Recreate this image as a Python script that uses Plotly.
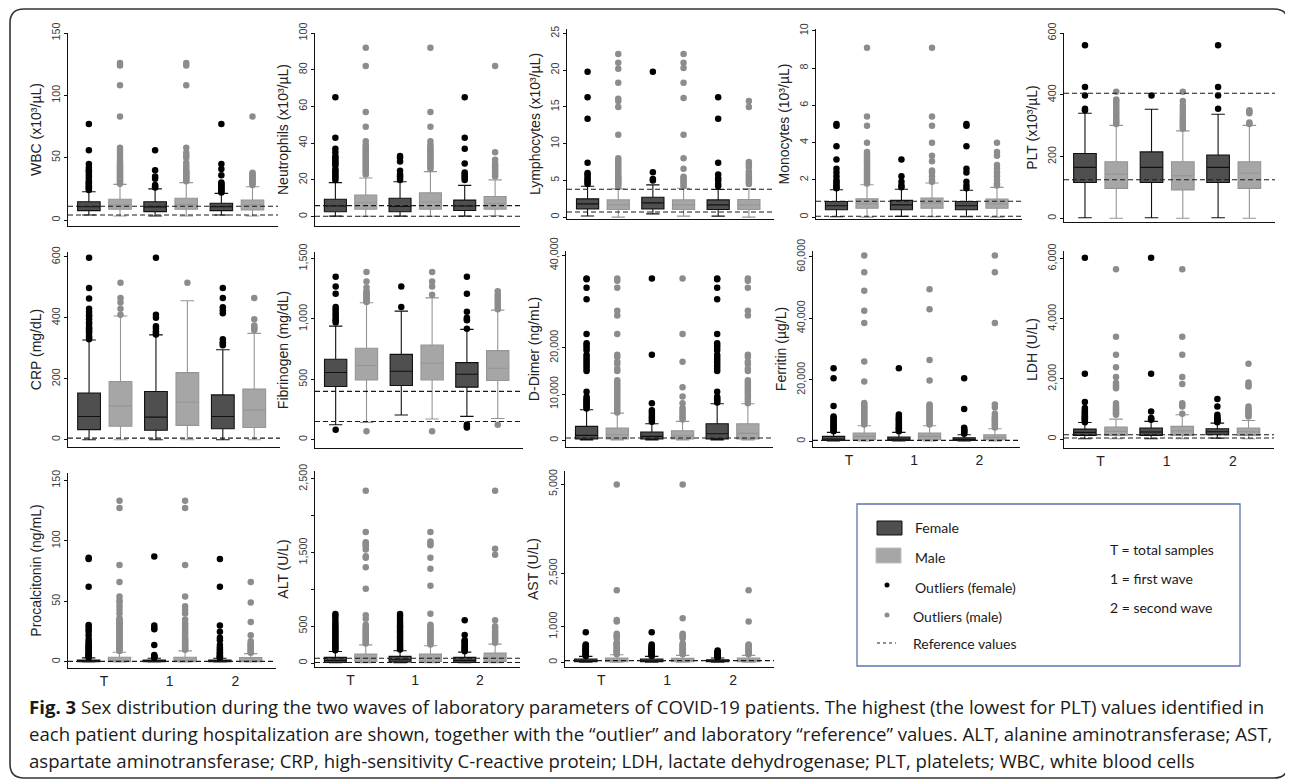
import plotly.graph_objects as go

# screen size and the page's default body margin (the figure div starts at 8,8)
SCREEN_W, SCREEN_H, PAGE_MARGIN = 1293, 780, 8
W, H = SCREEN_W - PAGE_MARGIN, SCREEN_H - PAGE_MARGIN
GROUPS = ["T", "1", "2"]

# ---------------- data (order of every list: T, 1, 2) ----------------
WBC_F = dict(low=[4, 3.2, 4], q1=[7.5, 6.7, 7.5], med=[10.7, 10.5, 10.6], q3=[14.7, 14.7, 13.4], high=[22.7, 25, 21.4])
WBC_M = dict(low=[3.2, 3.2, 3.2], q1=[8.6, 8.6, 8.0], med=[12.0, 12.3, 12.0], q3=[16.6, 17.4, 16.0], high=[28.6, 30.0, 26.7])
WBC_F_OUT = [[24, 25, 26, 27, 28, 29, 30, 31, 33, 35, 37, 39, 40, 42, 45, 56, 77],
             [26, 27, 28, 33, 35, 40, 56],
             [22, 23, 24, 25, 26, 27, 28, 29, 30, 36, 41, 45, 77]]
WBC_M_OUT = [[29, 30, 31, 32, 33, 34, 35, 36, 37, 38, 39, 40, 41, 42, 43, 44, 45, 46, 48, 50, 52, 54, 56, 58, 83, 108, 124, 126],
             [31, 32, 33, 34, 35, 36, 37, 38, 39, 40, 42, 44, 46, 50, 52, 54, 58, 108, 124, 126],
             [28, 29, 30, 31, 32, 33, 34, 35, 36, 37, 38, 83]]
WBC_REF = [4, 11]

NEU_F = dict(low=[0.3, 0.3, 0.3], q1=[2.7, 2.7, 3.3], med=[5.8, 5.5, 5.8], q3=[9.5, 10.0, 9.0], high=[18.5, 19.0, 17.0])
NEU_M = dict(low=[0.2, 0.2, 0.5], q1=[4.0, 4.0, 4.0], med=[7.6, 8.0, 7.0], q3=[11.8, 13.0, 11.0], high=[21.0, 24.5, 20.0])
NEU_F_OUT = [[20, 21, 22, 23, 24, 25, 26, 28, 29, 30, 31, 32, 33, 35, 37, 43, 65],
             [20, 21, 22, 23, 25, 30, 32, 33],
             [20, 21, 22, 23, 24, 29, 37, 43, 65]]
NEU_M_OUT = [[23, 24, 25, 26, 27, 28, 29, 30, 31, 32, 33, 34, 35, 36, 37, 38, 39, 41, 49, 57, 82, 92],
             [26, 27, 28, 29, 30, 31, 32, 33, 34, 35, 36, 37, 38, 39, 41, 49, 57, 92],
             [22, 23, 24, 25, 26, 27, 28, 29, 31, 35, 82]]
NEU_REF = [0.2, 6.0]

LYM_F = dict(low=[0.15, 0.45, 0.14], q1=[1.13, 1.13, 1.04], med=[1.81, 1.95, 1.67], q3=[2.49, 2.71, 2.35], high=[4.2, 4.39, 3.76])
LYM_M = dict(low=[0.0, 0.14, 0.0], q1=[1.04, 1.04, 1.04], med=[1.67, 1.67, 1.67], q3=[2.35, 2.35, 2.4], high=[3.85, 3.94, 3.85])
LYM_F_OUT = [[4.5, 4.7, 5.0, 5.2, 5.5, 5.8, 6.0, 7.4, 13.4, 16.3, 19.8],
             [5.0, 5.2, 6.1, 19.8],
             [4.2, 4.5, 5.0, 5.3, 5.8, 7.4, 13.4, 16.3]]
LYM_M_OUT = [[4.2, 4.4, 4.6, 4.8, 5.0, 5.2, 5.4, 5.6, 5.9, 6.2, 6.5, 6.8, 7.1, 7.4, 7.7, 8.0, 11.2, 15.0, 15.8, 16.1, 18.3, 20.2, 21.0, 22.2],
             [4.2, 4.5, 4.8, 5.0, 5.3, 5.5, 6.6, 8.0, 11.2, 16.2, 18.3, 20.3, 21.0, 22.2],
             [4.5, 4.7, 5.0, 5.3, 5.6, 5.9, 6.2, 6.8, 7.2, 7.5, 15.0, 15.8]]
LYM_REF = [0.7, 3.8]

MON_F = dict(low=[0.02, 0.04, 0.02], q1=[0.40, 0.40, 0.40], med=[0.61, 0.66, 0.61], q3=[0.84, 0.90, 0.84], high=[1.47, 1.50, 1.44])
MON_M = dict(low=[0.0, 0.02, 0.0], q1=[0.48, 0.48, 0.48], med=[0.72, 0.75, 0.72], q3=[0.99, 1.02, 0.97], high=[1.74, 1.83, 1.60])
MON_F_OUT = [[1.55, 1.6, 1.7, 1.8, 1.9, 2.0, 2.2, 2.4, 2.6, 3.1, 3.8, 4.9, 5.0],
             [1.6, 1.7, 1.9, 2.2, 3.1],
             [1.55, 1.7, 1.9, 2.4, 2.6, 3.8, 4.9, 5.0]]
MON_M_OUT = [[1.8, 1.9, 2.0, 2.1, 2.2, 2.3, 2.4, 2.5, 2.6, 2.7, 2.8, 2.9, 3.0, 3.1, 3.2, 3.3, 3.4, 3.5, 4.0, 4.9, 5.4, 9.1],
             [1.9, 2.0, 2.2, 2.4, 2.5, 3.0, 3.3, 4.0, 4.9, 5.4, 9.1],
             [1.7, 1.8, 2.0, 2.2, 2.4, 2.6, 2.8, 3.3, 3.5, 4.0]]
MON_REF = [0.05, 0.85]

PLT_F = dict(low=[2, 2, 2], q1=[116, 116, 116], med=[165, 165, 165], q3=[210, 215, 205], high=[340, 353, 337])
PLT_M = dict(low=[0, 0, 0], q1=[97, 92, 97], med=[143, 138, 146], q3=[183, 183, 183], high=[301, 283, 301])
PLT_F_OUT = [[350, 355, 398, 425, 560], [398], [355, 398, 425, 560]]
PLT_M_OUT = [[305, 312, 318, 325, 332, 340, 347, 355, 362, 370, 378, 385, 410],
             [290, 298, 305, 312, 320, 328, 335, 345, 355, 365, 380, 410],
             [305, 310, 340, 345, 350]]
PLT_REF = [125, 405]

CRP_F = dict(low=[0, 0, 0], q1=[33, 31, 36], med=[76, 74, 76], q3=[153, 158, 147], high=[327, 344, 295])
CRP_M = dict(low=[0, 0, 0], q1=[44, 47, 40], med=[111, 123, 97], q3=[191, 220, 166], high=[406, 456, 349])
CRP_F_OUT = [[330, 335, 340, 350, 355, 360, 365, 370, 380, 385, 395, 405, 410, 420, 430, 463, 498, 597],
             [345, 350, 355, 365, 372, 400, 410, 597],
             [310, 315, 320, 330, 415, 425, 435, 465, 498]]
CRP_M_OUT = [[410, 430, 450, 465, 515], [515], [360, 365, 370, 375, 395, 465]]
CRP_REF = [5]

FIB_F = dict(low=[124, 204, 193], q1=[440, 449, 435], med=[556, 567, 542], q3=[666, 707, 638], high=[941, 1065, 914])
FIB_M = dict(low=[143, 171, 176], q1=[495, 495, 490], med=[614, 633, 592], q3=[757, 784, 738], high=[1134, 1175, 1073])
FIB_F_OUT = [[83, 970, 990, 1000, 1020, 1040, 1060, 1080, 1100, 1210, 1270, 1350],
             [1100, 1270],
             [100, 110, 125, 920, 990, 1000, 1010, 1060, 1210, 1350]]
FIB_M_OUT = [[69, 1140, 1150, 1160, 1170, 1180, 1190, 1200, 1210, 1220, 1230, 1260, 1310, 1390],
             [69, 1200, 1270, 1310, 1390],
             [124, 1080, 1100, 1120, 1140, 1160, 1180, 1200, 1230]]
FIB_REF = [150, 400]

DDI_F = dict(low=[100, 100, 100], q1=[300, 280, 320], med=[1077, 862, 1436], q3=[3016, 1795, 3590], high=[6606, 3590, 7898])
DDI_M = dict(low=[100, 100, 100], q1=[300, 300, 320], med=[1220, 1005, 1500], q3=[2657, 2082, 3590], high=[5888, 4093, 7898])
DDI_F_OUT = [[6900, 7200, 7500, 7800, 8100, 8400, 8700, 9000, 9400, 10500, 15000, 15500, 16000, 16500, 17000, 17500, 18000,
              18500, 19500, 20000, 20500, 21000, 23000, 30500, 33000, 34800, 35000],
             [4000, 4500, 5000, 5500, 6000, 6500, 8000, 18500, 35000],
             [8200, 8500, 8800, 9100, 9400, 10500, 15000, 15500, 16000, 16500, 17000, 17500, 18000, 18500, 19500, 20000,
              20500, 21000, 23000, 30500, 33000, 34800, 35000]]
DDI_M_OUT = [[6000, 6500, 7000, 7500, 8000, 8500, 9000, 9500, 10000, 10500, 11000, 11500, 12000, 12500, 13000, 15000, 15500,
              16500, 17000, 18000, 18500, 23000, 27000, 28000, 33000, 34500, 35000],
             [4500, 5000, 5500, 6000, 6500, 7000, 8000, 9500, 11500, 17000, 23000, 35000],
             [8000, 8500, 9000, 9500, 10000, 10500, 11000, 11500, 12000, 12500, 13000, 15000, 15500, 16500, 17000, 18000,
              18500, 27000, 28000, 33000, 34500, 35000]]
DDI_REF = [500]

FER_F = dict(low=[100, 100, 100], q1=[324, 324, 324], med=[757, 757, 650], q3=[1620, 1400, 1190], high=[2920, 2920, 2160])
FER_M = dict(low=[100, 100, 100], q1=[540, 540, 540], med=[1620, 1620, 1300], q3=[2700, 2700, 2160], high=[5080, 5080, 4100])
FER_F_OUT = [[3300, 3700, 4100, 4500, 4900, 5300, 5700, 6100, 6600, 7100, 7600, 8100, 11500, 20500, 23800],
             [3300, 3700, 4100, 4500, 5000, 5500, 6000, 6500, 7000, 7500, 8000, 8700, 23800],
             [2500, 2800, 3100, 3400, 3700, 4000, 4400, 10500, 20500]]
FER_M_OUT = [[5500, 6000, 6500, 7000, 7500, 8000, 8500, 9000, 9500, 10000, 10500, 11000, 11500, 12000, 12500, 19500, 26000,
              38500, 42500, 49000, 55000, 60500],
             [5500, 6000, 6500, 7000, 7500, 8000, 8500, 9000, 9500, 10000, 10500, 11000, 11500, 12000, 19800, 26500, 43000, 49500],
             [4500, 5000, 5500, 6000, 6500, 7000, 7500, 8000, 9000, 11000, 12000, 38500, 55000, 60500]]
FER_REF = [300]

LDH_F = dict(low=[10, 10, 30], q1=[122, 122, 144], med=[221, 232, 243], q3=[331, 365, 343], high=[552, 586, 530])
LDH_M = dict(low=[10, 10, 10], q1=[122, 122, 122], med=[254, 276, 243], q3=[398, 420, 365], high=[663, 807, 619])
LDH_F_OUT = [[560, 600, 640, 680, 720, 760, 800, 850, 900, 960, 1030, 1230, 2170, 6030],
             [640, 670, 700, 920, 2170, 6030],
             [560, 590, 620, 650, 690, 740, 810, 1080, 1330]]
LDH_M_OUT = [[810, 850, 900, 950, 1000, 1050, 1100, 1190, 1690, 1740, 1800, 1860, 2060, 2390, 2800, 3400, 5650],
             [840, 1080, 1140, 1190, 1830, 2060, 2800, 3400, 5650],
             [750, 800, 850, 900, 950, 1000, 1080, 1750, 1800, 1880, 2500]]
LDH_REF = [35, 145]

PCT_F = dict(low=[0.02, 0.02, 0.02], q1=[0.1, 0.1, 0.1], med=[0.4, 0.4, 0.4], q3=[1.6, 1.5, 1.6], high=[3.4, 3.0, 3.0])
PCT_M = dict(low=[0.02, 0.02, 0.02], q1=[0.15, 0.15, 0.15], med=[0.9, 0.9, 0.8], q3=[3.9, 3.9, 3.6], high=[8.0, 9.1, 6.9])
PCT_F_OUT = [[3.6, 4.2, 4.8, 5.5, 6.2, 7, 8, 9, 10, 11, 12, 13, 14, 15.5, 17, 19, 22, 25, 27, 29, 30.5, 62, 85, 86],
             [3.5, 4.0, 4.5, 5.0, 5.8, 14, 27, 28, 30, 87],
             [3.5, 4.0, 4.5, 5.0, 6.0, 7.0, 8.0, 9.0, 10.5, 12, 14, 18, 20, 25, 30, 62, 85]]
PCT_M_OUT = [[9, 10, 11, 12, 13, 14, 15, 16, 17, 18, 19, 20, 21, 22, 23, 24, 25, 26, 27, 28, 29, 30, 31, 32, 33, 34, 35, 36,
              40, 43, 46, 49, 51, 54, 66, 80, 127, 133],
             [10, 11, 12, 13, 14, 15, 16, 17, 18, 19, 20, 22, 24, 26, 28, 30, 32, 35, 40, 43, 46, 54, 80, 127, 133],
             [7.5, 8.5, 9.5, 10.5, 11.5, 12.5, 13.5, 14.5, 15.5, 17, 22, 33, 49, 66]]
PCT_REF = [0.5]

ALT_F = dict(low=[5, 5, 5], q1=[9, 13, 9], med=[36, 45, 36], q3=[76, 90, 76], high=[157, 166, 148])
ALT_M = dict(low=[5, 5, 5], q1=[22, 22, 22], med=[67, 67, 67], q3=[121, 121, 135], high=[247, 234, 256])
ALT_F_OUT = [[175, 195, 215, 235, 255, 275, 300, 325, 350, 375, 400, 425, 450, 475, 500, 530, 560, 600, 640, 665],
             [185, 205, 225, 250, 275, 300, 325, 350, 375, 400, 425, 450, 475, 500, 530, 560, 600, 640, 665],
             [160, 175, 190, 205, 220, 240, 260, 280, 300, 310, 380, 580]]
ALT_M_OUT = [[265, 285, 305, 325, 345, 365, 385, 405, 425, 445, 470, 495, 520, 600, 650, 1010, 1300, 1430, 1450, 1540, 1580,
              1600, 1620, 1640, 1780, 2340],
             [250, 270, 290, 310, 330, 350, 370, 390, 410, 430, 450, 475, 500, 520, 670, 1050, 1280, 1430, 1600, 1620, 1650, 1780],
             [275, 300, 325, 350, 375, 400, 425, 450, 475, 500, 580, 1470, 1550, 2340]]
ALT_REF = [8, 65]

AST_F = dict(low=[5, 5, 5], q1=[19, 19, 19], med=[46, 46, 46], q3=[93, 93, 74], high=[167, 167, 121])
AST_M = dict(low=[5, 5, 5], q1=[19, 19, 19], med=[56, 56, 56], q3=[121, 111, 121], high=[214, 195, 195])
AST_F_OUT = [[180, 200, 220, 240, 260, 280, 300, 320, 340, 360, 380, 400, 420, 450, 480, 500, 845],
             [180, 200, 220, 240, 260, 280, 300, 320, 340, 360, 380, 400, 430, 460, 500, 845],
             [140, 160, 180, 200, 220, 240, 260, 280, 300, 330]]
AST_M_OUT = [[230, 260, 290, 320, 350, 380, 410, 440, 470, 500, 530, 560, 680, 720, 760, 800, 1150, 1190, 2025, 4990],
             [230, 260, 290, 320, 350, 380, 410, 440, 470, 500, 530, 680, 720, 760, 800, 1235, 4990],
             [230, 260, 290, 320, 350, 380, 410, 440, 470, 500, 1150, 2025]]
AST_REF = [50]

CAPTION = [
    "<b>Fig. 3</b> Sex distribution during the two waves of laboratory parameters of COVID-19 patients. The highest (the lowest for PLT) values identified in",
    "each patient during hospitalization are shown, together with the \u201coutlier\u201d and laboratory \u201creference\u201d values. ALT, alanine aminotransferase; AST,",
    "aspartate aminotransferase; CRP, high-sensitivity C-reactive protein; LDH, lactate dehydrogenase; PLT, platelets; WBC, white blood cells",
]

# ---------------- panel layout (screen pixel boxes: left, right, top, bottom) ----------------
PANELS = [
    dict(title="WBC (x10\u00b3/\u00b5L)", f=WBC_F, m=WBC_M, fo=WBC_F_OUT, mo=WBC_M_OUT, ref=WBC_REF,
         yr=[-4.8, 150], tv=[0, 50, 100, 150], px=(68, 278, 33, 226), xl=False),
    dict(title="Neutrophils (x10\u00b3/\u00b5L)", f=NEU_F, m=NEU_M, fo=NEU_F_OUT, mo=NEU_M_OUT, ref=NEU_REF,
         yr=[-5.1, 100], tv=[0, 20, 40, 60, 80, 100], px=(315, 520, 33, 226), xl=False),
    dict(title="Lymphocytes (x10\u00b3/\u00b5L)", f=LYM_F, m=LYM_M, fo=LYM_F_OUT, mo=LYM_M_OUT, ref=LYM_REF,
         yr=[-0.25, 25.6], tv=[0, 5, 10, 15, 20, 25], px=(567, 774, 29, 219), xl=False),
    dict(title="Monocytes (10\u00b3/\u00b5L)", f=MON_F, m=MON_M, fo=MON_F_OUT, mo=MON_M_OUT, ref=MON_REF,
         yr=[-0.1, 10.1], tv=[0, 2, 4, 6, 8, 10], px=(816, 1022, 29, 219), xl=False),
    dict(title="PLT (x10\u00b3/\u00b5L)", f=PLT_F, m=PLT_M, fo=PLT_F_OUT, mo=PLT_M_OUT, ref=PLT_REF,
         yr=[-12, 600], tv=[0, 200, 400, 600], px=(1064, 1275, 33, 222), xl=False),
    dict(title="CRP (mg/dL)", f=CRP_F, m=CRP_M, fo=CRP_F_OUT, mo=CRP_M_OUT, ref=CRP_REF,
         yr=[-24, 616], tv=[0, 200, 400, 600], px=(68, 280, 252, 447), xl=False),
    dict(title="Fibrinogen (mg/dL)", f=FIB_F, m=FIB_M, fo=FIB_F_OUT, mo=FIB_M_OUT, ref=FIB_REF,
         yr=[-69, 1555], tv=[0, 500, 1000, 1500], px=(315, 523, 252, 448), xl=False),
    dict(title="D-Dimer (ng/mL)", f=DDI_F, m=DDI_M, fo=DDI_F_OUT, mo=DDI_M_OUT, ref=DDI_REF,
         yr=[-1436, 40930], tv=[0, 10000, 20000, 40000], px=(566, 773, 251, 447), xl=False),
    dict(title="Ferritin (\u00b5g/L)", f=FER_F, m=FER_M, fo=FER_F_OUT, mo=FER_M_OUT, ref=FER_REF,
         yr=[-1840, 61940], tv=[0, 20000, 40000, 60000], px=(813, 1020, 251, 447), xl=True),
    dict(title="LDH (U/L)", f=LDH_F, m=LDH_M, fo=LDH_F_OUT, mo=LDH_M_OUT, ref=LDH_REF,
         yr=[-298, 6254], tv=[0, 2000, 4000, 6000], px=(1064, 1274, 251, 448), xl=True),
    dict(title="Procalcitonin (ng/mL)", f=PCT_F, m=PCT_M, fo=PCT_F_OUT, mo=PCT_M_OUT, ref=PCT_REF,
         yr=[-5, 156], tv=[0, 50, 100, 150], px=(68, 276, 473, 668), xl=True),
    dict(title="ALT (U/L)", f=ALT_F, m=ALT_M, fo=ALT_F_OUT, mo=ALT_M_OUT, ref=ALT_REF,
         yr=[-54, 2607], tv=[0, 500, 1500, 2500], minor=[1000, 2000], px=(315, 520, 471, 667), xl=True),
    dict(title="AST (U/L)", f=AST_F, m=AST_M, fo=AST_F_OUT, mo=AST_M_OUT, ref=AST_REF,
         yr=[-130, 5370], tv=[0, 1000, 2500, 5000], px=(565, 774, 471, 667), xl=True),
]

F_FILL, F_LINE, F_DOT = "#4f4f4f", "#111111", "#000000"
M_FILL, M_LINE, M_DOT = "#a6a6a6", "#959595", "#8c8c8c"
OFFSET, BOX_W = 0.235, 0.34
AX_FONT = "Liberation Sans, Arial, sans-serif"


def fx(x):
    return (x - PAGE_MARGIN) / W


def fy(y):
    return 1 - (y - PAGE_MARGIN) / H


fig = go.Figure()
layout = dict(width=W, height=H, margin=dict(l=0, r=0, t=0, b=0, autoexpand=False), plot_bgcolor="white",
              paper_bgcolor="white", showlegend=False, shapes=[], annotations=[])

for i, p in enumerate(PANELS, start=1):
    sfx = "" if i == 1 else str(i)
    xa, ya = "x" + sfx, "y" + sfx
    for stats, outs, off, fill, lc, dot in ((p["f"], p["fo"], -OFFSET, F_FILL, F_LINE, F_DOT),
                                             (p["m"], p["mo"], OFFSET, M_FILL, M_LINE, M_DOT)):
        pos = [g + off for g in range(len(GROUPS))]
        fig.add_trace(go.Box(x=pos, q1=stats["q1"], median=stats["med"], q3=stats["q3"],
                             lowerfence=stats["low"], upperfence=stats["high"],
                             width=BOX_W, whiskerwidth=0.6, fillcolor=fill,
                             line=dict(color=lc, width=1.1), boxpoints=False,
                             xaxis=xa, yaxis=ya, hoverinfo="skip"))
        ox, oy = [], []
        for g, vals in enumerate(outs):
            ox += [g + off] * len(vals)
            oy += vals
        fig.add_trace(go.Scatter(x=ox, y=oy, mode="markers", xaxis=xa, yaxis=ya,
                                 marker=dict(color=dot, size=6.5, line=dict(width=0)), hoverinfo="skip"))
    for r in p["ref"]:
        layout["shapes"].append(dict(type="line", xref=f"{xa} domain", yref=ya, x0=0, x1=1, y0=r, y1=r,
                                     line=dict(color="#1a1a1a", width=1.1, dash="5px,3px")))
    x0, x1, yt, yb = p["px"]
    xaxis = dict(domain=[fx(x0), fx(x1)], anchor=ya, range=[-0.55, 2.62],
                 showline=True, linecolor="#111", linewidth=1.3, showgrid=False, zeroline=False,
                 ticks="", fixedrange=True)
    if p["xl"]:
        xaxis.update(tickvals=list(range(len(GROUPS))), ticktext=GROUPS,
                     tickfont=dict(size=14, color="#222", family=AX_FONT))
    else:
        xaxis.update(showticklabels=False, tickvals=[])
    layout["xaxis" + sfx] = xaxis
    yaxis = dict(domain=[fy(yb), fy(yt)], anchor=xa, range=p["yr"], tickvals=p["tv"], tickformat=",d",
                 showline=True, linecolor="#111", linewidth=1.3, showgrid=False, zeroline=False,
                 ticks="outside", ticklen=3, tickcolor="#111", tickangle=-90,
                 tickfont=dict(size=10.8, color="#3a3a3a", family=AX_FONT),
                 title=dict(text=p["title"], font=dict(size=14, color="#222", family=AX_FONT), standoff=4),
                 fixedrange=True)
    if "minor" in p:
        yaxis["minor"] = dict(tickvals=p["minor"], ticks="outside", ticklen=3, tickcolor="#111")
    layout["yaxis" + sfx] = yaxis

# ---------------- outer rounded frame ----------------
L, R, T, B, rr = 10, 1288, 9, 778, 14
path = (f"M {fx(L + rr)} {fy(T)} L {fx(R - rr)} {fy(T)} Q {fx(R)} {fy(T)} {fx(R)} {fy(T + rr)} "
        f"L {fx(R)} {fy(B - rr)} Q {fx(R)} {fy(B)} {fx(R - rr)} {fy(B)} "
        f"L {fx(L + rr)} {fy(B)} Q {fx(L)} {fy(B)} {fx(L)} {fy(B - rr)} "
        f"L {fx(L)} {fy(T + rr)} Q {fx(L)} {fy(T)} {fx(L + rr)} {fy(T)} Z")
layout["shapes"].append(dict(type="path", xref="paper", yref="paper", path=path,
                             line=dict(color="#333", width=1.6)))

# ---------------- custom legend box ----------------
LEG_FONT = "Lato, Carlito, Calibri, sans-serif"


def rect(x0, y0, x1, y1, fill, line, lw=1.0):
    layout["shapes"].append(dict(type="rect", xref="paper", yref="paper", x0=fx(x0), x1=fx(x1),
                                 y0=fy(y1), y1=fy(y0), fillcolor=fill, line=dict(color=line, width=lw)))


def text(x, y, s, size=14, anchor="left"):
    layout["annotations"].append(dict(x=fx(x), y=fy(y), xref="paper", yref="paper", text=s, showarrow=False,
                                      xanchor=anchor, yanchor="middle",
                                      font=dict(size=size, color="#1a1a1a", family=LEG_FONT)))


rect(857, 504, 1240, 666, "rgba(0,0,0,0)", "#5a76b0", 1.3)
rect(877, 521, 902, 535, F_FILL, "#111", 1)
rect(876, 548, 901, 563, M_FILL, "#c0c0c0", 1)
for cy, col in ((585, "#000"), (615, M_DOT)):
    layout["shapes"].append(dict(type="circle", xref="paper", yref="paper", x0=fx(884.5), x1=fx(889.5),
                                 y0=fy(cy + 2.5), y1=fy(cy - 2.5), fillcolor=col, line=dict(width=0)))
layout["shapes"].append(dict(type="line", xref="paper", yref="paper", x0=fx(877), x1=fx(896), y0=fy(643), y1=fy(643),
                             line=dict(color="#222", width=1, dash="3px,3px")))
for y, s, x in ((527, "Female", 913), (557, "Male", 913), (587, "Outliers (female)", 913),
                (616, "Outliers (male)", 911), (643, "Reference values", 911)):
    text(x, y, s)
for y, s in ((549, "T = total samples"), (578, "1 = first wave"), (607, "2 = second wave")):
    text(1108, y, s)

# ---------------- caption ----------------
for y, s in zip((706, 733, 760), CAPTION):
    layout["annotations"].append(dict(x=fx(27), y=fy(y), xref="paper", yref="paper", text=s, showarrow=False,
                                      xanchor="left", yanchor="middle",
                                      font=dict(size=18.6, color="#1a1a1a", family="Open Sans, sans-serif")))

fig.update_layout(**layout)
fig.write_html("out.html")
